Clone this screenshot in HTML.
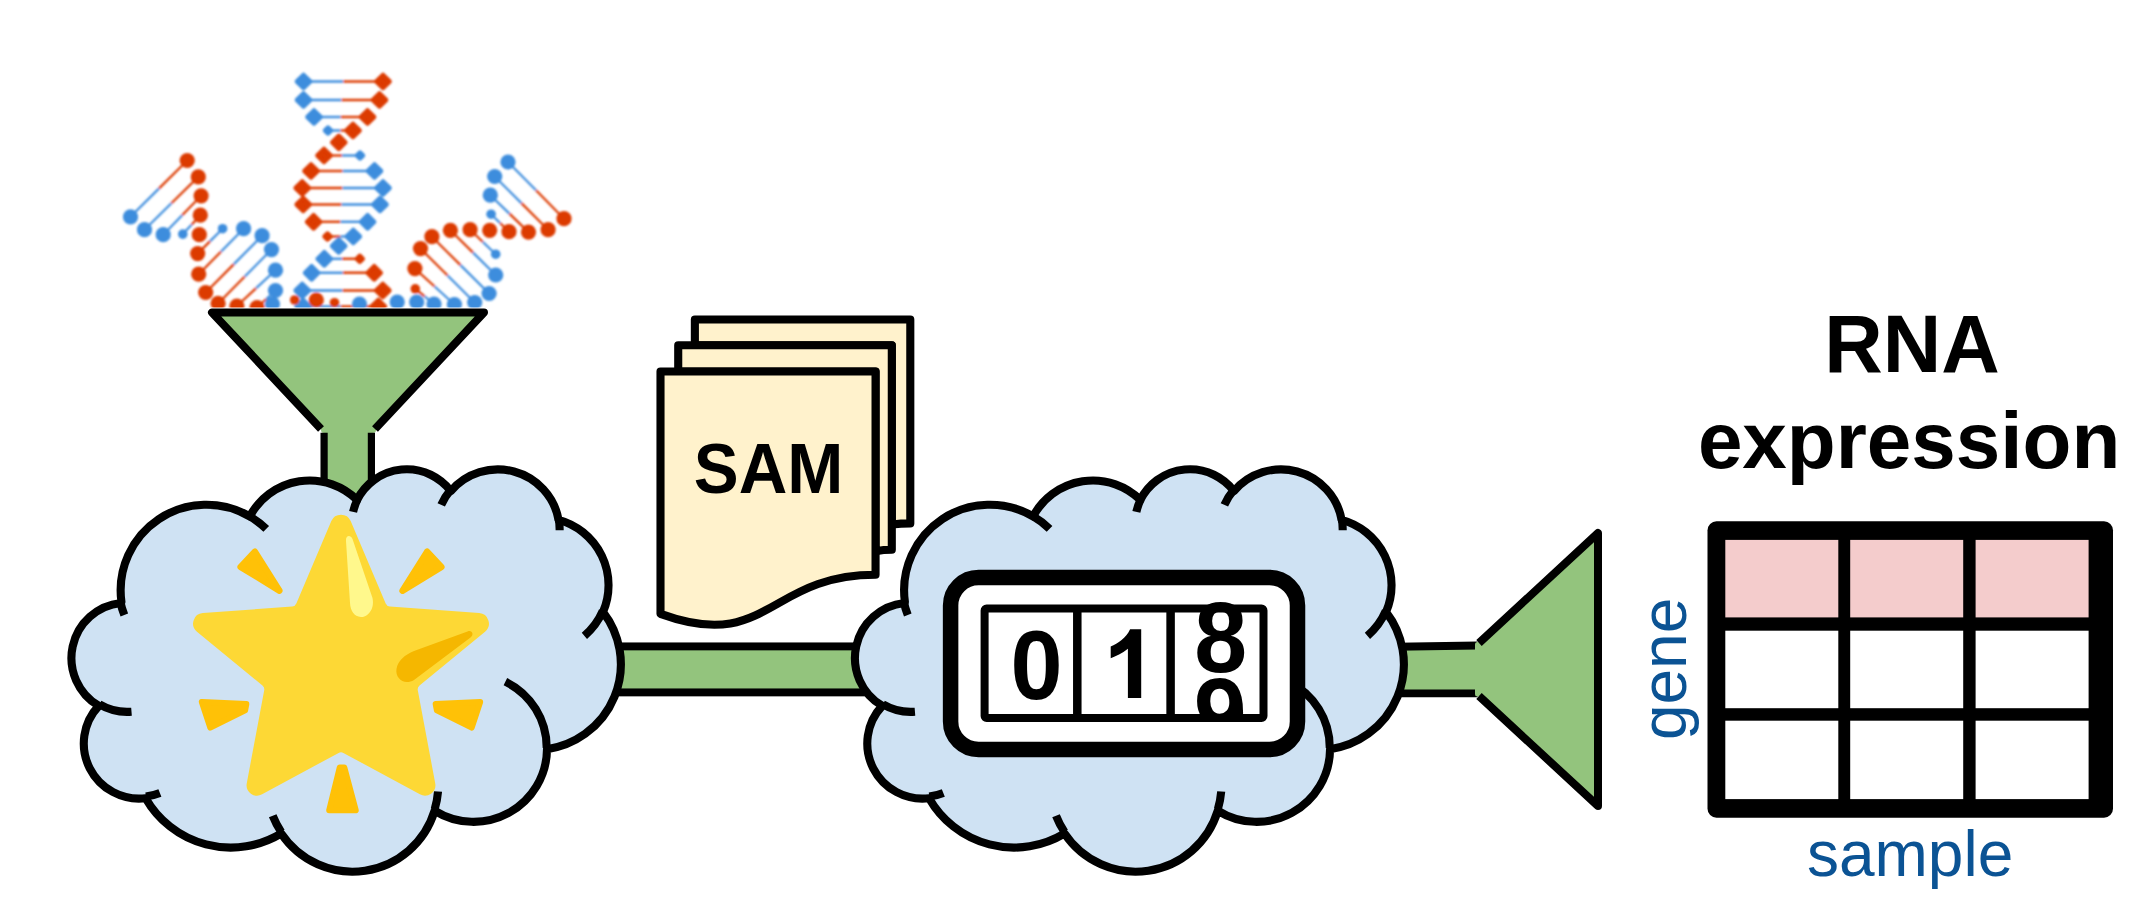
<!DOCTYPE html><html><head><meta charset="utf-8"><title>RNA-seq pipeline</title><style>html,body{margin:0;padding:0;background:#fff;width:2153px;height:903px;overflow:hidden}svg{display:block}text{font-family:"Liberation Sans",sans-serif}</style></head><body><svg width="2153" height="903" viewBox="0 0 2153 903"><defs><clipPath id="dnaclip"><rect x="0" y="0" width="700" height="307.6"/></clipPath><clipPath id="nineclip"><rect x="1180" y="670" width="80" height="44.6"/></clipPath><filter id="soft" x="-5%" y="-5%" width="110%" height="110%"><feGaussianBlur stdDeviation="0.8"/></filter></defs><g clip-path="url(#dnaclip)" filter="url(#soft)"><line x1="303.5" y1="81.5" x2="343.25" y2="81.5" stroke="#3E8DDD" stroke-width="2.4"/><line x1="343.25" y1="81.5" x2="383" y2="81.5" stroke="#DC3A00" stroke-width="2.4"/><line x1="303.5" y1="100" x2="341.5" y2="100" stroke="#3E8DDD" stroke-width="2.4"/><line x1="341.5" y1="100" x2="379.5" y2="100" stroke="#DC3A00" stroke-width="2.4"/><line x1="314" y1="117" x2="340.75" y2="117" stroke="#3E8DDD" stroke-width="2.4"/><line x1="340.75" y1="117" x2="367.5" y2="117" stroke="#DC3A00" stroke-width="2.4"/><line x1="328" y1="130.5" x2="340.5" y2="130.5" stroke="#3E8DDD" stroke-width="2.4"/><line x1="340.5" y1="130.5" x2="353" y2="130.5" stroke="#DC3A00" stroke-width="2.4"/><line x1="324" y1="155.5" x2="342" y2="155.5" stroke="#DC3A00" stroke-width="2.4"/><line x1="342" y1="155.5" x2="360" y2="155.5" stroke="#3E8DDD" stroke-width="2.4"/><line x1="311" y1="171" x2="342.75" y2="171" stroke="#DC3A00" stroke-width="2.4"/><line x1="342.75" y1="171" x2="374.5" y2="171" stroke="#3E8DDD" stroke-width="2.4"/><line x1="302.2" y1="188" x2="342.6" y2="188" stroke="#DC3A00" stroke-width="2.4"/><line x1="342.6" y1="188" x2="383" y2="188" stroke="#3E8DDD" stroke-width="2.4"/><line x1="303.2" y1="204.5" x2="341.6" y2="204.5" stroke="#DC3A00" stroke-width="2.4"/><line x1="341.6" y1="204.5" x2="380" y2="204.5" stroke="#3E8DDD" stroke-width="2.4"/><line x1="313.6" y1="221.8" x2="340.6" y2="221.8" stroke="#DC3A00" stroke-width="2.4"/><line x1="340.6" y1="221.8" x2="367.6" y2="221.8" stroke="#3E8DDD" stroke-width="2.4"/><line x1="327.5" y1="236.5" x2="340.4" y2="236.5" stroke="#DC3A00" stroke-width="2.4"/><line x1="340.4" y1="236.5" x2="353.3" y2="236.5" stroke="#3E8DDD" stroke-width="2.4"/><line x1="324.3" y1="258.8" x2="342.05" y2="258.8" stroke="#3E8DDD" stroke-width="2.4"/><line x1="342.05" y1="258.8" x2="359.8" y2="258.8" stroke="#DC3A00" stroke-width="2.4"/><line x1="311.6" y1="272.8" x2="342.9" y2="272.8" stroke="#3E8DDD" stroke-width="2.4"/><line x1="342.9" y1="272.8" x2="374.2" y2="272.8" stroke="#DC3A00" stroke-width="2.4"/><line x1="302.2" y1="290.5" x2="342.5" y2="290.5" stroke="#3E8DDD" stroke-width="2.4"/><line x1="342.5" y1="290.5" x2="382.8" y2="290.5" stroke="#DC3A00" stroke-width="2.4"/><line x1="303.1" y1="306.5" x2="340.7" y2="306.5" stroke="#3E8DDD" stroke-width="2.4"/><line x1="340.7" y1="306.5" x2="378.3" y2="306.5" stroke="#DC3A00" stroke-width="2.4"/><line x1="187.2" y1="160.5" x2="158.85" y2="188.65" stroke="#DC3A00" stroke-width="2.2"/><line x1="158.85" y1="188.65" x2="130.5" y2="216.8" stroke="#3E8DDD" stroke-width="2.2"/><line x1="198.3" y1="176.9" x2="171.4" y2="203.3" stroke="#DC3A00" stroke-width="2.2"/><line x1="171.4" y1="203.3" x2="144.5" y2="229.7" stroke="#3E8DDD" stroke-width="2.2"/><line x1="201.1" y1="195.8" x2="182.15" y2="215.25" stroke="#DC3A00" stroke-width="2.2"/><line x1="182.15" y1="215.25" x2="163.2" y2="234.7" stroke="#3E8DDD" stroke-width="2.2"/><line x1="200.3" y1="215.2" x2="191.55" y2="224.65" stroke="#DC3A00" stroke-width="2.2"/><line x1="191.55" y1="224.65" x2="182.8" y2="234.1" stroke="#3E8DDD" stroke-width="2.2"/><line x1="197.7" y1="253.6" x2="210.15" y2="241.15" stroke="#DC3A00" stroke-width="2.2"/><line x1="210.15" y1="241.15" x2="222.6" y2="228.7" stroke="#3E8DDD" stroke-width="2.2"/><line x1="198.7" y1="274.2" x2="221.15" y2="251.45" stroke="#DC3A00" stroke-width="2.2"/><line x1="221.15" y1="251.45" x2="243.6" y2="228.7" stroke="#3E8DDD" stroke-width="2.2"/><line x1="205.7" y1="292.5" x2="233.9" y2="264.1" stroke="#DC3A00" stroke-width="2.2"/><line x1="233.9" y1="264.1" x2="262.1" y2="235.7" stroke="#3E8DDD" stroke-width="2.2"/><line x1="218.1" y1="303.4" x2="244.8" y2="276.5" stroke="#DC3A00" stroke-width="2.2"/><line x1="244.8" y1="276.5" x2="271.5" y2="249.6" stroke="#3E8DDD" stroke-width="2.2"/><line x1="236.9" y1="306" x2="256.2" y2="288.1" stroke="#DC3A00" stroke-width="2.2"/><line x1="256.2" y1="288.1" x2="275.5" y2="270.2" stroke="#3E8DDD" stroke-width="2.2"/><line x1="257.1" y1="307.5" x2="266.3" y2="299" stroke="#DC3A00" stroke-width="2.2"/><line x1="266.3" y1="299" x2="275.5" y2="290.5" stroke="#3E8DDD" stroke-width="2.2"/><line x1="508" y1="162" x2="536" y2="190.35" stroke="#3E8DDD" stroke-width="2.2"/><line x1="536" y1="190.35" x2="564" y2="218.7" stroke="#DC3A00" stroke-width="2.2"/><line x1="494.7" y1="176.5" x2="521.4" y2="203.1" stroke="#3E8DDD" stroke-width="2.2"/><line x1="521.4" y1="203.1" x2="548.1" y2="229.7" stroke="#DC3A00" stroke-width="2.2"/><line x1="490.3" y1="195.2" x2="509.4" y2="213.65" stroke="#3E8DDD" stroke-width="2.2"/><line x1="509.4" y1="213.65" x2="528.5" y2="232.1" stroke="#DC3A00" stroke-width="2.2"/><line x1="491.1" y1="214.2" x2="500.05" y2="222.95" stroke="#3E8DDD" stroke-width="2.2"/><line x1="500.05" y1="222.95" x2="509" y2="231.7" stroke="#DC3A00" stroke-width="2.2"/><line x1="470.1" y1="229.7" x2="482.9" y2="241.95" stroke="#DC3A00" stroke-width="2.2"/><line x1="482.9" y1="241.95" x2="495.7" y2="254.2" stroke="#3E8DDD" stroke-width="2.2"/><line x1="450.4" y1="230.3" x2="473.05" y2="252.65" stroke="#DC3A00" stroke-width="2.2"/><line x1="473.05" y1="252.65" x2="495.7" y2="275" stroke="#3E8DDD" stroke-width="2.2"/><line x1="431.9" y1="236.7" x2="460.5" y2="265.1" stroke="#DC3A00" stroke-width="2.2"/><line x1="460.5" y1="265.1" x2="489.1" y2="293.5" stroke="#3E8DDD" stroke-width="2.2"/><line x1="420.5" y1="248.6" x2="447.6" y2="275.55" stroke="#DC3A00" stroke-width="2.2"/><line x1="447.6" y1="275.55" x2="474.7" y2="302.5" stroke="#3E8DDD" stroke-width="2.2"/><line x1="414.9" y1="268.6" x2="434.65" y2="286.55" stroke="#DC3A00" stroke-width="2.2"/><line x1="434.65" y1="286.55" x2="454.4" y2="304.5" stroke="#3E8DDD" stroke-width="2.2"/><line x1="415.3" y1="288.8" x2="424.65" y2="296.4" stroke="#DC3A00" stroke-width="2.2"/><line x1="424.65" y1="296.4" x2="434" y2="304" stroke="#3E8DDD" stroke-width="2.2"/><polygon points="297.01,81.5 303.5,75.02 309.99,81.5 303.5,87.98" fill="#3E8DDD" stroke="#3E8DDD" stroke-width="4.6" stroke-linejoin="round"/><polygon points="376.51,81.5 383,75.02 389.49,81.5 383,87.98" fill="#DC3A00" stroke="#DC3A00" stroke-width="4.6" stroke-linejoin="round"/><polygon points="297.01,100 303.5,93.52 309.99,100 303.5,106.48" fill="#3E8DDD" stroke="#3E8DDD" stroke-width="4.6" stroke-linejoin="round"/><polygon points="373.01,100 379.5,93.52 385.99,100 379.5,106.48" fill="#DC3A00" stroke="#DC3A00" stroke-width="4.6" stroke-linejoin="round"/><polygon points="307.51,117 314,110.52 320.49,117 314,123.48" fill="#3E8DDD" stroke="#3E8DDD" stroke-width="4.6" stroke-linejoin="round"/><polygon points="361.01,117 367.5,110.52 373.99,117 367.5,123.48" fill="#DC3A00" stroke="#DC3A00" stroke-width="4.6" stroke-linejoin="round"/><polygon points="325.1,130.5 328,127.6 330.9,130.5 328,133.4" fill="#3E8DDD" stroke="#3E8DDD" stroke-width="4.6" stroke-linejoin="round"/><polygon points="346.51,130.5 353,124.02 359.49,130.5 353,136.99" fill="#DC3A00" stroke="#DC3A00" stroke-width="4.6" stroke-linejoin="round"/><polygon points="317.51,155.5 324,149.01 330.49,155.5 324,161.99" fill="#DC3A00" stroke="#DC3A00" stroke-width="4.6" stroke-linejoin="round"/><polygon points="357.1,155.5 360,152.6 362.9,155.5 360,158.4" fill="#3E8DDD" stroke="#3E8DDD" stroke-width="4.6" stroke-linejoin="round"/><polygon points="304.51,171 311,164.51 317.49,171 311,177.49" fill="#DC3A00" stroke="#DC3A00" stroke-width="4.6" stroke-linejoin="round"/><polygon points="368.01,171 374.5,164.51 380.99,171 374.5,177.49" fill="#3E8DDD" stroke="#3E8DDD" stroke-width="4.6" stroke-linejoin="round"/><polygon points="295.71,188 302.2,181.51 308.69,188 302.2,194.49" fill="#DC3A00" stroke="#DC3A00" stroke-width="4.6" stroke-linejoin="round"/><polygon points="376.51,188 383,181.51 389.49,188 383,194.49" fill="#3E8DDD" stroke="#3E8DDD" stroke-width="4.6" stroke-linejoin="round"/><polygon points="296.71,204.5 303.2,198.01 309.69,204.5 303.2,210.99" fill="#DC3A00" stroke="#DC3A00" stroke-width="4.6" stroke-linejoin="round"/><polygon points="373.51,204.5 380,198.01 386.49,204.5 380,210.99" fill="#3E8DDD" stroke="#3E8DDD" stroke-width="4.6" stroke-linejoin="round"/><polygon points="307.12,221.8 313.6,215.31 320.09,221.8 313.6,228.29" fill="#DC3A00" stroke="#DC3A00" stroke-width="4.6" stroke-linejoin="round"/><polygon points="361.12,221.8 367.6,215.31 374.09,221.8 367.6,228.29" fill="#3E8DDD" stroke="#3E8DDD" stroke-width="4.6" stroke-linejoin="round"/><polygon points="324.6,236.5 327.5,233.6 330.4,236.5 327.5,239.4" fill="#DC3A00" stroke="#DC3A00" stroke-width="4.6" stroke-linejoin="round"/><polygon points="346.81,236.5 353.3,230.01 359.79,236.5 353.3,242.99" fill="#3E8DDD" stroke="#3E8DDD" stroke-width="4.6" stroke-linejoin="round"/><polygon points="317.81,258.8 324.3,252.31 330.79,258.8 324.3,265.29" fill="#3E8DDD" stroke="#3E8DDD" stroke-width="4.6" stroke-linejoin="round"/><polygon points="356.9,258.8 359.8,255.9 362.7,258.8 359.8,261.7" fill="#DC3A00" stroke="#DC3A00" stroke-width="4.6" stroke-linejoin="round"/><polygon points="305.12,272.8 311.6,266.31 318.09,272.8 311.6,279.29" fill="#3E8DDD" stroke="#3E8DDD" stroke-width="4.6" stroke-linejoin="round"/><polygon points="367.71,272.8 374.2,266.31 380.69,272.8 374.2,279.29" fill="#DC3A00" stroke="#DC3A00" stroke-width="4.6" stroke-linejoin="round"/><polygon points="295.71,290.5 302.2,284.01 308.69,290.5 302.2,296.99" fill="#3E8DDD" stroke="#3E8DDD" stroke-width="4.6" stroke-linejoin="round"/><polygon points="376.31,290.5 382.8,284.01 389.29,290.5 382.8,296.99" fill="#DC3A00" stroke="#DC3A00" stroke-width="4.6" stroke-linejoin="round"/><polygon points="296.62,306.5 303.1,300.01 309.59,306.5 303.1,312.99" fill="#3E8DDD" stroke="#3E8DDD" stroke-width="4.6" stroke-linejoin="round"/><polygon points="371.81,306.5 378.3,300.01 384.79,306.5 378.3,312.99" fill="#DC3A00" stroke="#DC3A00" stroke-width="4.6" stroke-linejoin="round"/><circle cx="187.2" cy="160.5" r="7.6" fill="#DC3A00"/><circle cx="130.5" cy="216.8" r="7.6" fill="#3E8DDD"/><circle cx="198.3" cy="176.9" r="7.6" fill="#DC3A00"/><circle cx="144.5" cy="229.7" r="7.6" fill="#3E8DDD"/><circle cx="201.1" cy="195.8" r="7.6" fill="#DC3A00"/><circle cx="163.2" cy="234.7" r="7.6" fill="#3E8DDD"/><circle cx="200.3" cy="215.2" r="7.6" fill="#DC3A00"/><circle cx="182.8" cy="234.1" r="4.8" fill="#3E8DDD"/><circle cx="197.7" cy="253.6" r="7.6" fill="#DC3A00"/><circle cx="222.6" cy="228.7" r="4.8" fill="#3E8DDD"/><circle cx="198.7" cy="274.2" r="7.6" fill="#DC3A00"/><circle cx="243.6" cy="228.7" r="7.6" fill="#3E8DDD"/><circle cx="205.7" cy="292.5" r="7.6" fill="#DC3A00"/><circle cx="262.1" cy="235.7" r="7.6" fill="#3E8DDD"/><circle cx="218.1" cy="303.4" r="7.6" fill="#DC3A00"/><circle cx="271.5" cy="249.6" r="7.6" fill="#3E8DDD"/><circle cx="236.9" cy="306" r="7.6" fill="#DC3A00"/><circle cx="275.5" cy="270.2" r="7.6" fill="#3E8DDD"/><circle cx="257.1" cy="307.5" r="7.6" fill="#DC3A00"/><circle cx="275.5" cy="290.5" r="7.6" fill="#3E8DDD"/><circle cx="508" cy="162" r="7.6" fill="#3E8DDD"/><circle cx="564" cy="218.7" r="7.6" fill="#DC3A00"/><circle cx="494.7" cy="176.5" r="7.6" fill="#3E8DDD"/><circle cx="548.1" cy="229.7" r="7.6" fill="#DC3A00"/><circle cx="490.3" cy="195.2" r="7.6" fill="#3E8DDD"/><circle cx="528.5" cy="232.1" r="7.6" fill="#DC3A00"/><circle cx="491.1" cy="214.2" r="4.8" fill="#3E8DDD"/><circle cx="509" cy="231.7" r="7.6" fill="#DC3A00"/><circle cx="470.1" cy="229.7" r="7.6" fill="#DC3A00"/><circle cx="495.7" cy="254.2" r="4.8" fill="#3E8DDD"/><circle cx="450.4" cy="230.3" r="7.6" fill="#DC3A00"/><circle cx="495.7" cy="275" r="7.6" fill="#3E8DDD"/><circle cx="431.9" cy="236.7" r="7.6" fill="#DC3A00"/><circle cx="489.1" cy="293.5" r="7.6" fill="#3E8DDD"/><circle cx="420.5" cy="248.6" r="7.6" fill="#DC3A00"/><circle cx="474.7" cy="302.5" r="7.6" fill="#3E8DDD"/><circle cx="414.9" cy="268.6" r="7.6" fill="#DC3A00"/><circle cx="454.4" cy="304.5" r="7.6" fill="#3E8DDD"/><circle cx="415.3" cy="288.8" r="4.8" fill="#DC3A00"/><circle cx="434" cy="304" r="7.6" fill="#3E8DDD"/><polygon points="332.31,142.4 338.8,135.91 345.29,142.4 338.8,148.89" fill="#DC3A00" stroke="#DC3A00" stroke-width="4.6" stroke-linejoin="round"/><polygon points="332.21,246 338.7,239.51 345.19,246 338.7,252.49" fill="#3E8DDD" stroke="#3E8DDD" stroke-width="4.6" stroke-linejoin="round"/><circle cx="316.3" cy="300" r="7.6" fill="#DC3A00"/><circle cx="294.7" cy="300" r="4.8" fill="#DC3A00"/><circle cx="334.5" cy="302.7" r="4.8" fill="#DC3A00"/><circle cx="359.5" cy="304" r="7.6" fill="#3E8DDD"/><circle cx="199.3" cy="234.7" r="7.6" fill="#DC3A00"/><circle cx="272.5" cy="304.1" r="7.6" fill="#3E8DDD"/><circle cx="489.7" cy="230.3" r="7.6" fill="#DC3A00"/><circle cx="416.7" cy="302" r="7.6" fill="#3E8DDD"/><circle cx="397.2" cy="302" r="7.6" fill="#3E8DDD"/></g><rect x="324" y="425" width="47.5" height="70" fill="#93C47D"/><rect x="321" y="423.5" width="55" height="9.5" rx="3" fill="#93C47D"/><path d="M324.1,432.7 L324.1,490 M371.4,432.7 L371.4,490" stroke="#000" stroke-width="7.2"/><path d="M212,312.3 L484,312.3 L375,429 L321,429 Z" fill="#93C47D"/><path d="M321,429 L212,312.4 L484,312.4 L375,429" fill="none" stroke="#000" stroke-width="8" stroke-linejoin="round"/><rect x="560" y="646.4" width="340" height="46" fill="#93C47D" stroke="#000" stroke-width="7.9"/><path d="M1380,647 L1477.6,645.5 L1477.6,693.4 L1380,693.4 Z" fill="#93C47D"/><path d="M1380,647 L1477.6,645.5 M1380,693.4 L1477.6,693.4" stroke="#000" stroke-width="7.9"/><path d="M1598,533 L1598,806 L1479,696 L1479,643 Z" fill="#93C47D"/><rect x="1475" y="642" width="9" height="54.5" rx="2.5" fill="#93C47D"/><path d="M1479,643 L1598,533 L1598,806 L1479,696" fill="none" stroke="#000" stroke-width="8" stroke-linejoin="round"/><g transform="translate(71.9 468)"><path d="M49.54 133.79A85.77 85.56 0 0 1 177.88 48.43A67.74 67.66 0 0 1 285.22 31.95A55.44 55.35 0 0 1 378.92 23.10A61.69 61.40 0 0 1 486.69 51.91A67.74 67.71 0 0 1 531.15 143.93A86.05 85.84 0 0 1 475.09 281.20A73.48 73.24 0 0 1 362.70 342.74A85.76 85.79 0 0 1 209.32 365.56A98.05 98.16 0 0 1 73.73 330.23A55.38 55.10 0 0 1 26.84 237.86A55.19 55.35 0 0 1 49.07 135.04Z" fill="#CFE2F3" stroke="#000" stroke-width="8.1" stroke-linejoin="round"/><path d="M59.61 243.71A55.19 55.35 0 0 1 27.43 236.29M88.00 324.92A55.38 55.10 0 0 1 73.92 328.47M209.29 363.94A85.76 85.79 0 0 1 200.81 347.74M366.14 323.54A85.76 85.79 0 0 1 362.76 341.31M433.49 213.71A73.48 73.24 0 0 1 474.78 280.14M530.89 142.95A67.74 67.71 0 0 1 512.50 167.86M486.77 50.52A61.69 61.40 0 0 1 487.74 62.28M369.33 36.79A61.69 61.40 0 0 1 378.75 21.79M281.22 43.94A55.44 55.35 0 0 1 285.78 31.00M177.82 48.34A85.77 85.56 0 0 1 194.33 60.89M52.42 147.00A85.77 85.56 0 0 1 48.38 133.65" fill="none" stroke="#000" stroke-width="8.1"/></g><polygon points="254.87,551.71 240.62,566.94 279.44,590.68" fill="#FFC107" stroke="#FFC107" stroke-width="6.4" stroke-linejoin="round"/><polygon points="402.56,590.68 441.38,566.94 427.13,551.71" fill="#FFC107" stroke="#FFC107" stroke-width="6.4" stroke-linejoin="round"/><polygon points="201.85,701.96 246.31,704.07 245.1,710.34 210.29,727.68" fill="#FFC107" stroke="#FFC107" stroke-width="6" stroke-linejoin="round"/><polygon points="471.71,727.68 436.9,710.34 435.69,704.07 480.15,701.96" fill="#FFC107" stroke="#FFC107" stroke-width="6" stroke-linejoin="round"/><polygon points="339.76,767.47 344.32,767.48 355.74,810.29 329.21,810.26" fill="#FFC107" stroke="#FFC107" stroke-width="6" stroke-linejoin="round"/><path d="M331.33 521.06A10.5 10.5 0 0 1 350.67 521.06L385.67 603.53A5 5 0 0 0 389.91 606.57L479.14 613.08A10.5 10.5 0 0 1 485.04 631.67L419.52 685.5A5 5 0 0 0 417.78 690.29L435.22 783.2A10.5 10.5 0 0 1 419.89 794.37L343.38 752.89A5 5 0 0 0 338.62 752.89L262.11 794.37A10.5 10.5 0 0 1 246.78 783.2L264.22 690.29A5 5 0 0 0 262.48 685.5L196.96 631.67A10.5 10.5 0 0 1 202.86 613.08L292.09 606.57A5 5 0 0 0 296.33 603.53Z" fill="#FDD835"/><path d="M346,541 C345.5,536 350,534 352.5,539 L372.5,598 C375,610 367,617.5 361,617 C354,616.5 350.5,611 350,603 Z" fill="#FFF88C"/><path d="M467.5,631.5 C472,629.5 474.5,634.5 470.5,637.5 L414,680 C404,686 395,678 396.5,669 C398,660 405,655 414,651 Z" fill="#F5B700"/><g transform="translate(855.4 468)"><path d="M49.49 133.79A85.69 85.56 0 0 1 177.72 48.43A67.67 67.66 0 0 1 284.96 31.95A55.39 55.35 0 0 1 378.57 23.10A61.63 61.40 0 0 1 486.25 51.91A67.67 67.71 0 0 1 530.67 143.93A85.97 85.84 0 0 1 474.65 281.20A73.41 73.24 0 0 1 362.37 342.74A85.68 85.79 0 0 1 209.13 365.56A97.97 98.16 0 0 1 73.66 330.23A55.33 55.10 0 0 1 26.82 237.86A55.14 55.35 0 0 1 49.03 135.04Z" fill="#CFE2F3" stroke="#000" stroke-width="8.1" stroke-linejoin="round"/><path d="M59.55 243.71A55.14 55.35 0 0 1 27.41 236.29M87.92 324.92A55.33 55.10 0 0 1 73.85 328.47M209.10 363.94A85.68 85.79 0 0 1 200.63 347.74M365.81 323.54A85.68 85.79 0 0 1 362.43 341.31M433.09 213.71A73.41 73.24 0 0 1 474.35 280.14M530.41 142.95A67.67 67.71 0 0 1 512.04 167.86M486.32 50.52A61.63 61.40 0 0 1 487.29 62.28M368.99 36.79A61.63 61.40 0 0 1 378.41 21.79M280.97 43.94A55.39 55.35 0 0 1 285.52 31.00M177.66 48.34A85.69 85.56 0 0 1 194.15 60.89M52.37 147.00A85.69 85.56 0 0 1 48.34 133.65" fill="none" stroke="#000" stroke-width="8.1"/></g><path d="M694.87 345.21L694.87 319.5L910.3 319.5L910.3 523.39C901.05 523.39 891.8 524.45 891.8 524.45L891.8 345.21Z" fill="#FFF2CC" stroke="#000" stroke-width="8.1" stroke-linejoin="round"/><path d="M678.22 371.56L678.22 345.21L891.8 345.21L891.8 549.74C883.68 549.74 875.55 551.15 875.55 551.15L875.55 371.56Z" fill="#FFF2CC" stroke="#000" stroke-width="8.1" stroke-linejoin="round"/><path d="M660.5 371.56L875.55 371.56L875.55 574.81C768.03 574.81 768.03 653.01 660.5 613.91Z" fill="#FFF2CC" stroke="#000" stroke-width="8.1" stroke-linejoin="round"/><text transform="translate(768.5 492.5) scale(0.975 1.02)" font-family="Liberation Sans" font-weight="bold" font-size="69" text-anchor="middle">SAM</text><rect x="950.6" y="577.5" width="346.9" height="172" rx="28" fill="#fff" stroke="#000" stroke-width="15.5"/><rect x="984.6" y="608.6" width="278.9" height="109.5" rx="2" fill="#fff" stroke="#000" stroke-width="8"/><path d="M1077.3,608 V718 M1170.6,608 V718" stroke="#000" stroke-width="8.5"/><g font-family="Liberation Sans" font-weight="bold" font-size="98" text-anchor="middle"><text transform="translate(1036.6 698.6) scale(0.955 1.005)">0</text><text transform="translate(1220.8 671.5) scale(0.97 1.02)">8</text><g clip-path="url(#nineclip)"><text transform="translate(1220.3 747.5) scale(0.97 1.02)">9</text></g></g><path d="M1141.2,629.2 L1141.2,698 L1127.9,698 L1127.9,648.8 C1122,653.5 1116,656 1110.7,658.2 L1110.7,646.6 C1118,643.5 1126,638 1130.1,629.2 Z"/><g font-family="Liberation Sans" font-weight="bold" font-size="80" text-anchor="middle"><text transform="translate(1912 372.1) scale(1.013 1.02)">RNA</text><text x="1909.1" y="468.2">expression</text></g><rect x="1707.5" y="521.3" width="405.5" height="296.4" rx="9" fill="#000"/><rect x="1725.3" y="539.9" width="113" height="77.5" fill="#F4CCCC"/><rect x="1850.2" y="539.9" width="113" height="77.5" fill="#F4CCCC"/><rect x="1975.6" y="539.9" width="113" height="77.5" fill="#F4CCCC"/><rect x="1725.3" y="630.7" width="113" height="77.5" fill="#fff"/><rect x="1850.2" y="630.7" width="113" height="77.5" fill="#fff"/><rect x="1975.6" y="630.7" width="113" height="77.5" fill="#fff"/><rect x="1725.3" y="720.7" width="113" height="78.4" fill="#fff"/><rect x="1850.2" y="720.7" width="113" height="78.4" fill="#fff"/><rect x="1975.6" y="720.7" width="113" height="78.4" fill="#fff"/><text x="1910.1" y="875.7" font-family="Liberation Sans" font-size="64" text-anchor="middle" fill="#0B5394">sample</text><text transform="translate(1685.5 668.9) rotate(-90)" font-family="Liberation Sans" font-size="64" text-anchor="middle" fill="#0B5394">gene</text></svg></body></html>
